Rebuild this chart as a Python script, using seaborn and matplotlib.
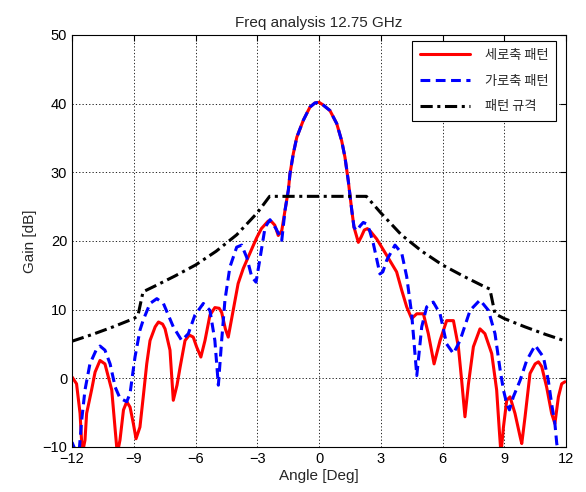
import numpy as np
import pandas as pd
import matplotlib
matplotlib.use("Agg")
import matplotlib.pyplot as plt
import seaborn as sns

# ---- data ----
red_x = [-12.0, -11.78, -11.61, -11.5, -11.37, -11.29, -11.05, -10.88, -10.64, -10.4, -10.07, -9.9, -9.8,
         -9.67, -9.5, -9.34, -9.18, -9.02, -8.89, -8.7, -8.54, -8.37, -8.21, -7.96, -7.8, -7.6, -7.48, -7.24,
         -7.08, -6.9, -6.75, -6.51, -6.3, -6.11, -5.95, -5.74, -5.54, -5.3, -5.06, -4.85, -4.73, -4.55, -4.41,
         -4.17, -3.93, -3.68, -3.36, -3.04, -2.8, -2.47, -2.3, -2.15, -1.98, -1.81, -1.65, -1.49, -1.41, -1.25,
         -1.08, -0.76, -0.44, -0.2, 0.0, 0.2, 0.53, 0.86, 1.1, 1.26, 1.42, 1.59, 1.7, 1.91, 2.05, 2.2, 2.35, 2.5,
         2.8, 3.29, 3.77, 4.02, 4.26, 4.5, 4.75, 5.07, 5.31, 5.59, 5.88, 6.2, 6.53, 6.77, 6.93, 7.09, 7.26, 7.5,
         7.82, 8.06, 8.39, 8.63, 8.76, 8.84, 8.96, 9.12, 9.28, 9.52, 9.77, 9.85, 10.01, 10.25, 10.5, 10.66, 10.82,
         11.06, 11.3, 11.46, 11.63, 11.79, 11.95]
red_y = [0.2, -0.8, -5.1, -11.0, -9.0, -5.1, -1.7, 0.9, 2.6, 2.1, -1.7, -7.6, -11.0,
         -9.0, -4.6, -3.4, -4.2, -6.6, -8.8, -7.1, -2.7, 2.1, 5.5, 7.5, 8.2, 7.9, 7.2, 4.1,
         -3.2, -1.0, 1.6, 5.5, 6.3, 6.0, 4.6, 3.1, 5.5, 9.2, 10.3, 10.2, 9.6, 7.2, 6.0,
         9.9, 13.8, 16.0, 18.2, 20.4, 21.8, 22.9, 22.8, 22.3, 20.8, 21.5, 24.5, 27.4, 29.8, 32.7,
         35.1, 37.6, 39.5, 40.1, 40.2, 39.8, 39.0, 37.1, 34.6, 32.2, 28.8, 24.5, 22.0, 19.8, 20.6, 21.6, 21.8, 21.4,
         20.3, 17.9, 15.5, 12.8, 10.4, 8.7, 9.4, 9.4, 6.5, 2.1, 5.5, 8.4, 8.4, 4.6, -0.3, -5.6, -0.8, 4.6,
         7.2, 6.5, 3.6, -1.7, -7.6, -11.0, -7.1, -3.2, -2.7, -5.1, -8.5, -9.5, -5.6, 0.7, 2.1, 2.4, 1.7,
         -1.3, -5.1, -6.6, -2.7, -0.8, -0.5]

blue_x = [-12.0, -11.8, -11.65, -11.53, -11.37, -11.13, -10.8, -10.64, -10.4, -10.15, -9.9, -9.67, -9.34, -9.18,
          -9.05, -8.94, -8.7, -8.54, -8.21, -7.88, -7.56, -7.08, -6.67, -6.35, -6.03, -5.62, -5.3, -5.06, -4.89,
          -4.73, -4.57, -4.33, -4.0, -3.76, -3.51, -3.27, -3.06, -2.87, -2.62, -2.38, -2.09, -1.81, -1.65, -1.49,
          -1.41, -1.25, -1.08, -0.76, -0.44, -0.2, 0.0, 0.2, 0.53, 0.86, 1.1, 1.26, 1.42, 1.59, 1.7, 1.83, 2.0,
          2.15, 2.3, 2.45, 2.64, 2.96, 3.1, 3.29, 3.69, 4.02, 4.26, 4.5, 4.75, 4.99, 5.23, 5.55, 5.88, 6.2, 6.53,
          6.85, 7.34, 7.82, 8.23, 8.55, 8.8, 8.96, 9.12, 9.25, 9.44, 9.77, 10.09, 10.5, 10.9, 11.14, 11.3, 11.46,
          11.55, 11.7, 12.0]
blue_y = [-9.3, -10.8, -10.5, -6.1, -1.7, 2.1, 4.3, 4.7, 4.1, 2.1, -1.3, -2.9, -3.4, -2.2,
          0.7, 3.1, 7.0, 8.5, 10.9, 11.6, 10.9, 7.5, 5.5, 6.5, 9.2, 10.9, 9.9, 5.5, -1.0,
          5.5, 11.4, 16.2, 19.1, 19.4, 17.6, 14.8, 14.0, 17.4, 22.0, 23.1, 21.8, 20.1, 24.5, 27.4,
          29.8, 32.7, 35.1, 37.6, 39.5, 40.1, 40.2, 39.8, 39.0, 37.1, 34.6, 32.2, 28.8, 24.5, 22.0, 21.5, 22.2,
          22.7, 22.5, 21.6, 19.6, 15.2, 15.5, 17.2, 19.4, 18.2, 14.8, 9.4, 0.4, 7.5, 10.4, 11.1, 9.4, 5.0, 3.6,
          5.5, 9.9, 11.4, 9.9, 6.5, 1.2, -1.7, -3.7, -4.6, -2.7, -0.3, 2.6, 4.8, 3.1, -0.3, -3.7, -6.6,
          -9.5, -12.0, -14.0]

mask_x = [-12, -11, -10, -9, -8.8, -8.55, -8, -7, -6, -5, -4, -3, -2.4, 2.3, 3, 4, 5, 6, 7, 8, 8.3, 8.55, 9, 10, 11, 12]
mask_y = [5.4, 6.4, 7.5, 8.7, 9.1, 12.6, 13.4, 14.9, 16.5, 18.5, 20.9, 24.1, 26.5, 26.5, 24.1, 20.9, 18.5, 16.5,
          14.9, 13.4, 13.0, 9.4, 8.7, 7.5, 6.4, 5.4]

labels = ["세로축 패턴", "가로축 패턴", "패턴 규격"]
x_ticks = [-12, -9, -6, -3, 0, 3, 6, 9, 12]
y_ticks = [-10, 0, 10, 20, 30, 40, 50]

df = pd.concat([
    pd.DataFrame({"x": red_x, "y": red_y, "s": labels[0]}),
    pd.DataFrame({"x": blue_x, "y": blue_y, "s": labels[1]}),
    pd.DataFrame({"x": mask_x, "y": mask_y, "s": labels[2]}),
], ignore_index=True)

sns.set_style("white")
plt.rcParams["font.family"] = ["Liberation Sans", "Noto Sans CJK KR", "DejaVu Sans"]

fig = plt.figure(figsize=(5.86, 4.92), dpi=100)
ax = fig.add_axes([0.1229, 0.0915, 0.843, 0.8374])

styles = {labels[0]: dict(color="#ff0000", ls="-"),
          labels[1]: dict(color="#0000ff", ls=(0, (3.2, 1.8))),
          labels[2]: dict(color="black", ls=(0, (4, 1.5, 1, 1.5)))}
for lab in labels:
    sub = df[df["s"] == lab]
    sns.lineplot(data=sub, x="x", y="y", ax=ax, sort=False, estimator=None,
                 color=styles[lab]["color"], linestyle=styles[lab]["ls"], linewidth=2.2, label=lab)

ax.set_xlim(-12, 12)
ax.set_ylim(-10, 50)
ax.set_xticks(x_ticks)
ax.set_yticks(y_ticks)
ax.grid(True, color="black", linestyle=(0, (1.5, 2.5)), linewidth=0.6)
ax.tick_params(direction="in", top=True, right=True, length=4, labelsize=10.5, colors="black")
for sp in ax.spines.values():
    sp.set_visible(True)
    sp.set_color("black")
    sp.set_linewidth(0.8)
ax.set_title("Freq analysis 12.75 GHz", fontsize=11, pad=6)
ax.set_xlabel("Angle [Deg]", fontsize=11, labelpad=2)
ax.set_ylabel("Gain [dB]", fontsize=11, labelpad=4)

leg = ax.legend(loc="upper right", bbox_to_anchor=(0.98, 0.985), borderaxespad=0, fancybox=False,
                framealpha=1, edgecolor="black", handlelength=3.8, handletextpad=1.1, borderpad=0.6,
                labelspacing=0.95, prop={"family": ["Noto Sans CJK KR", "DejaVu Sans"], "size": 9.5})
leg.get_frame().set_linewidth(0.8)

fig.savefig("out.png", dpi=100)
